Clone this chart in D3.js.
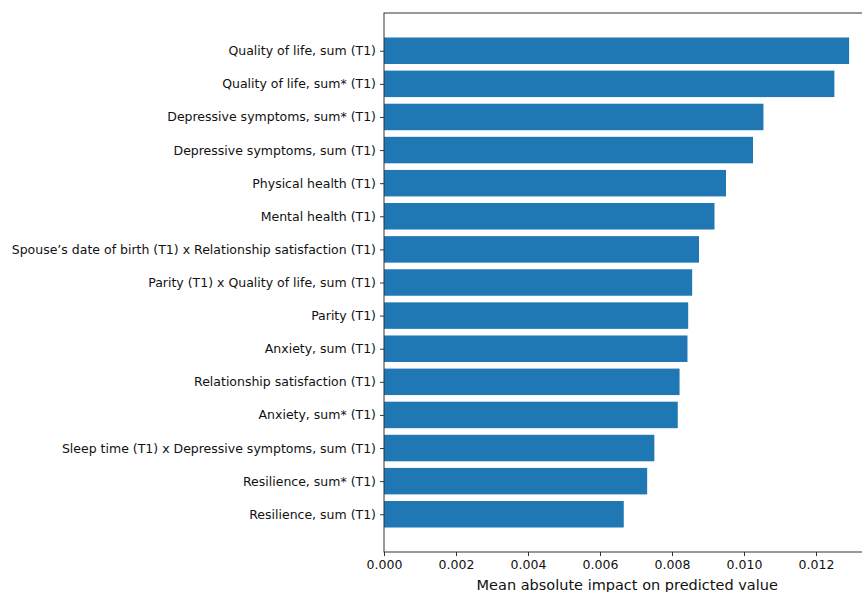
<!DOCTYPE html>
<html>
<head>
<meta charset="utf-8">
<script src="https://cdn.jsdelivr.net/npm/d3@7"></script>
<style>
  body { margin: 0; background: #fff; }
  svg { display: block; }
  svg text { font-family: "DejaVu Sans", sans-serif; }
</style>
</head>
<body>
<div id="chart"></div>
<script>
// features, top to bottom
const features = [
  "Quality of life, sum (T1)",
  "Quality of life, sum* (T1)",
  "Depressive symptoms, sum* (T1)",
  "Depressive symptoms, sum (T1)",
  "Physical health (T1)",
  "Mental health (T1)",
  "Spouse\u2019s date of birth (T1) x Relationship satisfaction (T1)",
  "Parity (T1) x Quality of life, sum (T1)",
  "Parity (T1)",
  "Anxiety, sum (T1)",
  "Relationship satisfaction (T1)",
  "Anxiety, sum* (T1)",
  "Sleep time (T1) x Depressive symptoms, sum (T1)",
  "Resilience, sum* (T1)",
  "Resilience, sum (T1)"
];
const impact = [0.01292, 0.01251, 0.01054, 0.01025, 0.00950, 0.00918, 0.00875,
  0.00856, 0.00845, 0.00843, 0.00821, 0.00816, 0.00751, 0.00731, 0.00666];
const xTicks = [0, 0.002, 0.004, 0.006, 0.008, 0.010, 0.012];
const xTitle = "Mean absolute impact on predicted value";

const W = 862, H = 592;
const mLeft = 384, mTop = 13, mBottom = 552;
const xMax = d3.max(impact) * 1.05;
const mRight = mLeft + 36000 * xMax;   // axes run past the picture edge

const svg = d3.select("#chart").append("svg").attr("width", W).attr("height", H);

const x = d3.scaleLinear().domain([0, xMax]).range([mLeft, mRight]);
// matplotlib-like barh: bar i at position n-1-i, height 0.8, 5% margins
const n = features.length;
const span = (n - 1 + 0.8);
const y = d3.scaleLinear()
  .domain([-0.4 - 0.05 * span, n - 1 + 0.4 + 0.05 * span])
  .range([mBottom, mTop]);

svg.append("g").selectAll("rect")
  .data(impact)
  .join("rect")
  .attr("x", x(0))
  .attr("y", (d, i) => y(n - 1 - i + 0.4))
  .attr("width", d => x(d) - x(0))
  .attr("height", (d, i) => y(n - 1 - i - 0.4) - y(n - 1 - i + 0.4))
  .attr("fill", "#1f77b4");

// frame
svg.append("rect")
  .attr("x", mLeft).attr("y", mTop)
  .attr("width", mRight - mLeft).attr("height", mBottom - mTop)
  .attr("fill", "none").attr("stroke", "#333").attr("stroke-width", 1);

const xAxis = svg.append("g")
  .attr("transform", `translate(0,${mBottom})`)
  .call(d3.axisBottom(x).tickValues(xTicks).tickFormat(d3.format(".3f"))
    .tickSize(4).tickPadding(4));
xAxis.attr("font-family", null);
xAxis.select(".domain").remove();
xAxis.selectAll("text").attr("font-size", 12.5).attr("fill", "#111");
xAxis.selectAll("line").attr("stroke", "#333");

const yAxis = svg.append("g")
  .attr("transform", `translate(${mLeft},0)`)
  .call(d3.axisLeft(y).tickValues(d3.range(n))
    .tickFormat(v => features[n - 1 - v]).tickSize(4).tickPadding(4));
yAxis.attr("font-family", null);
yAxis.select(".domain").remove();
yAxis.selectAll("text").attr("font-size", 12.5).attr("fill", "#111");
yAxis.selectAll("line").attr("stroke", "#333");

svg.append("text")
  .attr("x", (mLeft + mRight) / 2 - 1)
  .attr("y", 590)
  .attr("text-anchor", "middle")
  .attr("font-size", 14.5)
  .attr("fill", "#111")
  .text(xTitle);
</script>
</body>
</html>
